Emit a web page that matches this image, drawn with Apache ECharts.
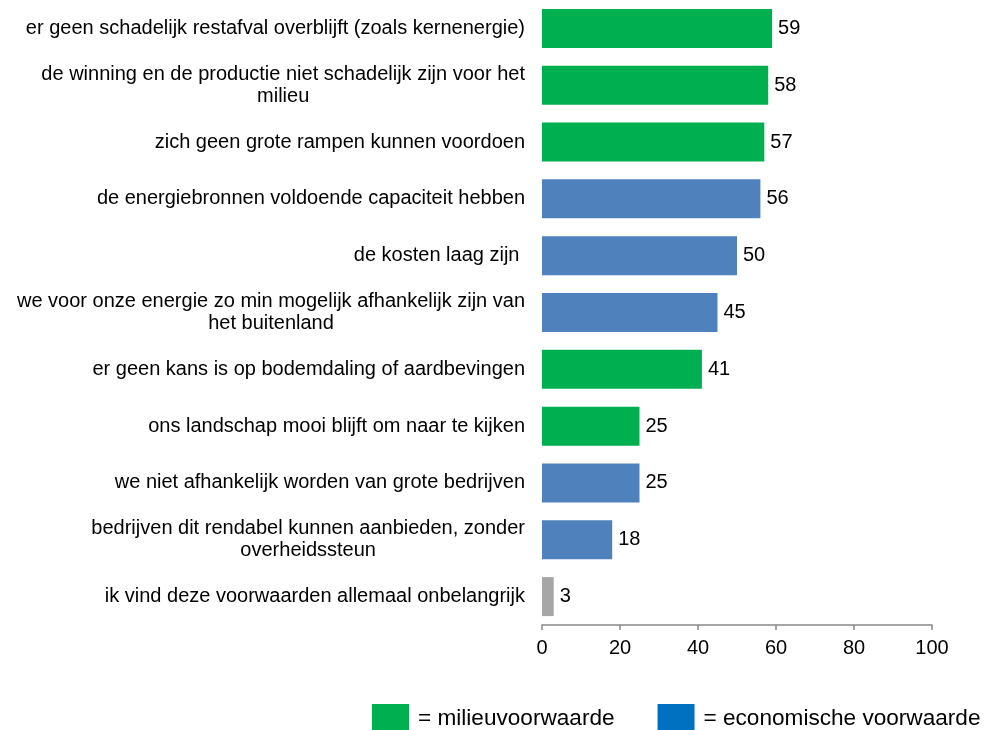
<!DOCTYPE html>
<html><head><meta charset="utf-8">
<script src="https://cdn.jsdelivr.net/npm/echarts@6/dist/echarts.min.js"></script>
<style>html,body{margin:0;padding:0;background:#fff}#c{width:987px;height:730px}</style>
</head><body><div id="c"></div>
<script>
const categories = [
  "er geen schadelijk restafval overblijft (zoals kernenergie)",
  "de winning en de productie niet schadelijk zijn voor het\nmilieu",
  "zich geen grote rampen kunnen voordoen",
  "de energiebronnen voldoende capaciteit hebben",
  "de kosten laag zijn ",
  "we voor onze energie zo min mogelijk afhankelijk zijn van\nhet buitenland",
  "er geen kans is op bodemdaling of aardbevingen",
  "ons landschap mooi blijft om naar te kijken",
  "we niet afhankelijk worden van grote bedrijven",
  "bedrijven dit rendabel kunnen aanbieden, zonder\noverheidssteun",
  "ik vind deze voorwaarden allemaal onbelangrijk"
];
const milieu     = [59, 58, 57, null, null, null, 41, 25, null, null, null];
const economisch = [null, null, null, 56, 50, 45, null, null, 25, 18, null];
const overig     = [null, null, null, null, null, null, null, null, null, null, 3];
const xTicks = [0, 20, 40, 60, 80, 100];

const FONT = "'Liberation Sans', Arial, sans-serif";
const chart = echarts.init(document.getElementById('c'), null, {renderer: 'canvas'});
const lbl = {show: true, position: 'right', distance: 6, color: '#000', fontSize: 20, fontFamily: FONT};
chart.setOption({
  animation: false,
  grid: {left: 542, right: 55, top: 0, height: 625},
  xAxis: {
    type: 'value', min: xTicks[0], max: xTicks[xTicks.length - 1], interval: 20,
    splitLine: {show: false},
    axisLine: {show: true, lineStyle: {color: '#888', width: 1.5}},
    axisTick: {show: true, length: 5, lineStyle: {color: '#888', width: 1.5}},
    axisLabel: {color: '#000', fontSize: 20, fontFamily: FONT, margin: 13}
  },
  yAxis: {
    type: 'category', data: categories, inverse: true,
    axisLine: {show: false}, axisTick: {show: false},
    axisLabel: {
      color: '#000', fontSize: 20, fontFamily: FONT, margin: 17, lineHeight: 22,
      formatter: function (v) {
        return v.split('\n').map(function (s) { return '{c|' + s + '}'; }).join('\n');
      },
      rich: {c: {align: 'center', fontSize: 20, fontFamily: FONT, color: '#000', lineHeight: 22}}
    }
  },
  legend: {
    top: 704, left: 372, padding: 0, itemWidth: 37, itemHeight: 30, itemGap: 43,
    icon: 'rect',
    textStyle: {fontSize: 22.6, fontFamily: FONT, color: '#000', padding: [0, 0, 0, 4]},
    formatter: function (n) { return '= ' + n; },
    data: [
      {name: 'milieuvoorwaarde', itemStyle: {color: '#00b050'}},
      {name: 'economische voorwaarde', itemStyle: {color: '#0070c0'}}
    ]
  },
  series: [
    {name: 'milieuvoorwaarde', type: 'bar', stack: 't', data: milieu, barWidth: 39,
     itemStyle: {color: '#00b050'}, label: lbl},
    {name: 'economische voorwaarde', type: 'bar', stack: 't', data: economisch, barWidth: 39,
     itemStyle: {color: '#4f81bd'}, label: lbl},
    {name: 'overig', type: 'bar', stack: 't', data: overig, barWidth: 39,
     itemStyle: {color: '#a6a6a6'}, label: lbl}
  ]
});
</script></body></html>
